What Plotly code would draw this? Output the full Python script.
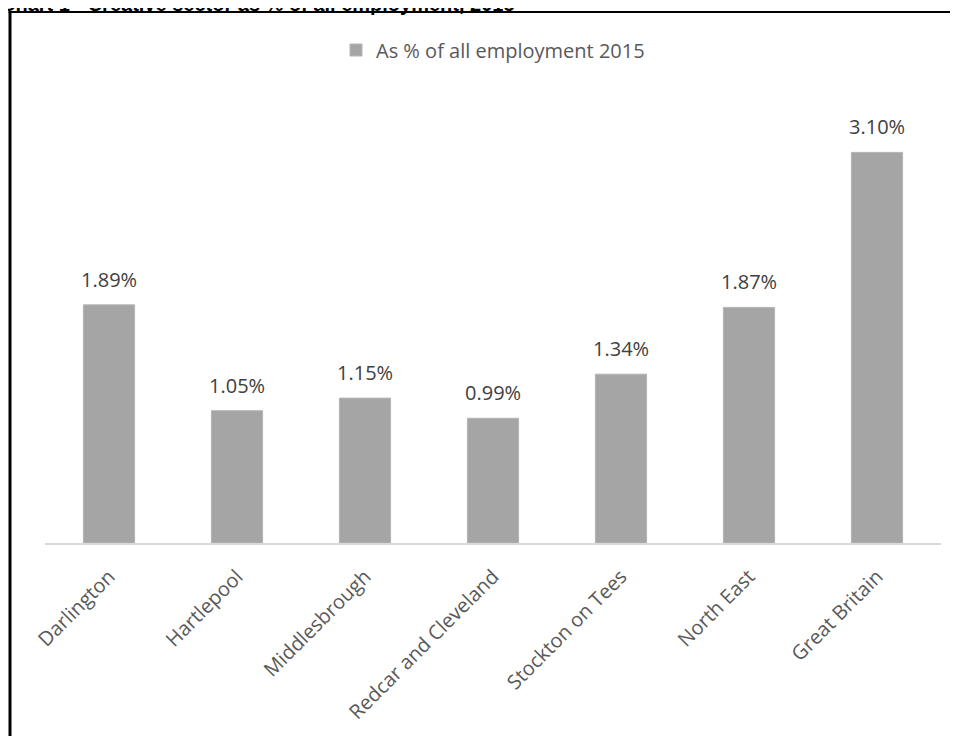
import plotly.graph_objects as go

categories = ["Darlington", "Hartlepool", "Middlesbrough", "Redcar and Cleveland",
              "Stockton on Tees", "North East", "Great Britain"]
values = [1.89, 1.05, 1.15, 0.99, 1.34, 1.87, 3.10]
series_name = "As % of all employment 2015"
title_text = "Chart 1 - Creative sector as % of all employment, 2015"

W, H = 958, 736
OFF = 8  # page body margin
# target positions in page pixels
AX_L, AX_R, AX_Y, TOP = 45, 941, 543, 102
L = AX_L - OFF
R = W - (AX_R - OFF)
T = TOP - OFF
B = H - (AX_Y - OFF)
pw, ph = W - L - R, H - T - B

def px_x(p):
    return (p - OFF - L) / pw

def px_y(p):
    return (H - B - (p - OFF)) / ph

fig = go.Figure()
fig.add_trace(go.Bar(
    x=categories, y=values, name=series_name,
    marker=dict(color="#a5a5a5", line=dict(color="#b5b5b5", width=1)),
    showlegend=True,
))

for c, v in zip(categories, values):
    fig.add_annotation(x=c, y=v, text=f"{v:.2f}%", showarrow=False,
                       yanchor="bottom", yshift=10,
                       font=dict(family="Open Sans", size=20, color="#404040"))

fig.add_annotation(xref="paper", yref="paper", x=px_x(0), y=px_y(16),
                   xanchor="left", yanchor="bottom", text="<b>" + title_text + "</b>",
                   showarrow=False, borderpad=0,
                   font=dict(family="Liberation Sans, Arial", size=20, color="#000000"))

fig.add_shape(type="line", xref="paper", yref="paper",
              x0=px_x(10), y0=px_y(760), x1=px_x(10), y1=px_y(12),
              line=dict(color="black", width=3))
fig.add_shape(type="line", xref="paper", yref="paper",
              x0=px_x(8.5), y0=px_y(12), x1=px_x(990), y1=px_y(12),
              line=dict(color="black", width=2))

fig.update_layout(
    width=W, height=H,
    margin=dict(l=L, r=R, t=T, b=B),
    paper_bgcolor="white", plot_bgcolor="white",
    bargap=0.6,
    showlegend=True,
    legend=dict(orientation="h", x=0.5, xanchor="center", y=px_y(50), yanchor="middle",
                font=dict(family="Open Sans", size=20, color="#595959"),
                itemwidth=30),
    xaxis=dict(tickangle=-45, showline=True, linecolor="#d9d9d9", linewidth=2,
               ticks="", ticklabelstandoff=12,
               tickfont=dict(family="Open Sans", size=20, color="#595959"),
               showgrid=False, zeroline=False),
    yaxis=dict(visible=False, range=[0, 3.5], showgrid=False, zeroline=False),
)

fig.write_html("out.html")
